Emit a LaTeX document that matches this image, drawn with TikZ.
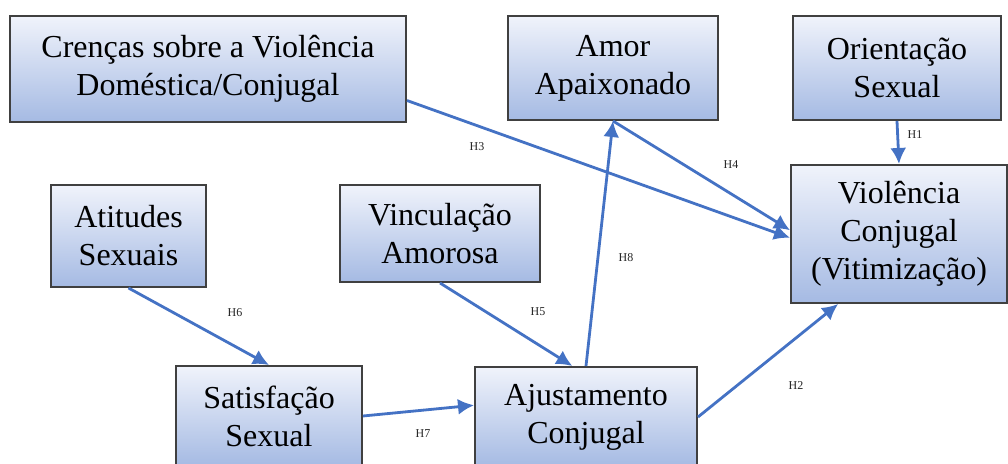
\documentclass[tikz,border=0pt]{standalone}
\usepackage{fontspec}
\setmainfont{Liberation Serif}
\usetikzlibrary{arrows.meta}
\definecolor{boxtop}{RGB}{240,243,251}
\definecolor{boxbot}{RGB}{165,186,227}
\definecolor{arrblue}{RGB}{68,114,196}
\tikzset{
  caixa/.style={draw=black!75, line width=1pt, top color=boxtop, bottom color=boxbot,
    align=center, inner sep=0pt, font=\fontsize{16}{19}\selectfont},
  seta/.style={draw=arrblue, line width=1.4pt, -{Latex[length=8pt,width=8pt]}},
  hip/.style={font=\fontsize{6}{7}\selectfont, text=black!85, inner sep=0pt}
}

\begin{document}
\begin{tikzpicture}[x=0.5pt, y=-0.5pt]
  \useasboundingbox (0,0) rectangle (1008,464);
  % 方框
  \node[caixa, minimum width=198pt, minimum height=53pt] (crencas) at (208,69) {Crenças sobre a Violência\\Doméstica/Conjugal};
  \node[caixa, minimum width=105pt, minimum height=52pt] (amor) at (613,68) {Amor\\Apaixonado};
  \node[caixa, minimum width=104pt, minimum height=52pt] (orient) at (897,68) {Orientação\\Sexual};
  \node[caixa, minimum width=108pt, minimum height=69pt] (violencia) at (899,234) {Violência\\Conjugal\\(Vitimização)};
  \node[caixa, minimum width=77.5pt, minimum height=51pt] (atitudes) at (128.5,236) {Atitudes\\Sexuais};
  \node[caixa, minimum width=100pt, minimum height=48.5pt] (vinc) at (440,233.5) {Vinculação\\Amorosa};
  \node[caixa, minimum width=93pt, minimum height=50pt] (satisf) at (269,416) {Satisfação\\Sexual};
  \node[caixa, minimum width=111pt, minimum height=50pt] (ajust) at (586,417) {Ajustamento\\Conjugal};
  % 箭头
  \draw[seta] (crencas.-9) -- (violencia.182);
  \draw[seta] (amor.south) -- (violencia.178);
  \draw[seta] (orient.south) -- (violencia.north);
  \draw[seta] (ajust.north) -- (amor.south);
  \draw[seta] (vinc.south) -- (ajust.105);
  \draw[seta] (atitudes.south) -- (satisf.north);
  \draw[seta] (satisf.east) -- (ajust.174);
  \draw[seta] (ajust.east) -- (violencia.229);
  % 假设
  \node[hip] (h1) at (915,135) {H1};
  \node[hip] (h2) at (796,386) {H2};
  \node[hip] (h3) at (477,147) {H3};
  \node[hip] (h4) at (731,165) {H4};
  \node[hip] (h5) at (538,312) {H5};
  \node[hip] (h6) at (235,313) {H6};
  \node[hip] (h7) at (423,434) {H7};
  \node[hip] (h8) at (626,258) {H8};
\end{tikzpicture}
\end{document}
